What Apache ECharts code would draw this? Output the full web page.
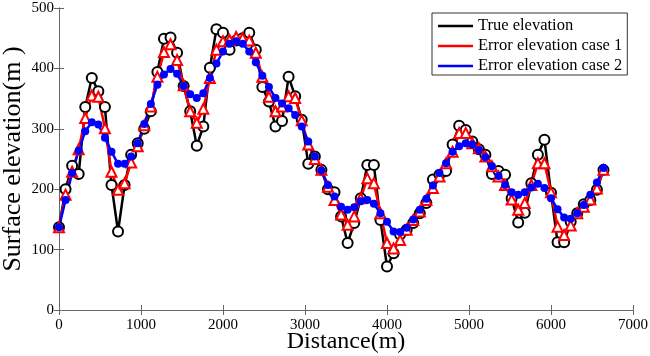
<!DOCTYPE html>
<html>
<head>
<meta charset="utf-8">
<script src="https://cdn.jsdelivr.net/npm/echarts@6/dist/echarts.min.js"></script>
<style>
html,body{margin:0;padding:0;background:#fff;}
#chart{width:650px;height:356px;}
</style>
</head>
<body>
<div id="chart"></div>
<script>
var distance = [0,80,160,240,320,400,480,560,640,720,800,880,960,1040,1120,1200,1280,1360,1440,1520,1600,1680,1760,1840,1920,2000,2080,2160,2240,2320,2400,2480,2560,2640,2720,2800,2880,2960,3040,3120,3200,3280,3360,3440,3520,3600,3680,3760,3840,3920,4000,4080,4160,4240,4320,4400,4480,4560,4640,4720,4800,4880,4960,5040,5120,5200,5280,5360,5440,5520,5600,5680,5760,5840,5920,6000,6080,6160,6240,6320,6400,6480,6560,6640];
var trueElev = [137,200,239,225,336,384,362,336,207,130,207,257,276,300,329,394,449,451,426,371,329,272,304,401,465,459,431,446,450,459,431,369,345,304,313,386,354,315,242,254,232,200,195,155,111,144,185,240,240,149,72,94,125,133,144,160,177,216,224,230,274,305,298,279,266,257,225,230,224,185,145,161,210,257,282,194,112,112,146,160,175,182,199,232];
var errorCase1 = [137,191,229,266,318,355,353,301,229,199,210,244,271,306,337,386,427,440,414,372,329,310,333,384,431,445,447,452,450,446,426,386,353,329,337,354,351,314,274,250,232,204,182,158,141,155,185,218,210,160,111,102,116,133,149,163,182,202,221,243,262,293,293,276,268,254,238,221,207,183,166,177,207,243,243,195,138,124,140,160,171,183,201,232];
var errorCase2 = [137,182,227,264,296,311,307,285,262,242,242,254,276,308,341,373,390,399,391,371,357,351,359,384,408,428,441,445,441,428,410,388,369,351,342,334,323,304,279,254,231,207,188,171,166,170,180,182,176,160,146,130,129,136,150,166,184,206,227,243,262,271,276,274,265,253,238,222,207,195,191,195,203,209,202,185,167,153,151,160,174,191,211,235];
var seriesNames = ['True elevation','Error elevation case 1','Error elevation case 2'];
var xTicks = [0,1000,2000,3000,4000,5000,6000,7000];
var yTicks = [0,100,200,300,400,500];

function pairs(ys){ return distance.map(function(d,i){ return [d, ys[i]]; }); }
function plain(v){ return String(v); }

var font = 'Liberation Serif';
var axisCol = '#666';
var chart = echarts.init(document.getElementById('chart'), null, {renderer:'canvas'});
var xMin = xTicks[0], xMax = xTicks[xTicks.length-1], xStep = xTicks[1]-xTicks[0];
var yMin = yTicks[0], yMax = yTicks[yTicks.length-1], yStep = yTicks[1]-yTicks[0];
chart.setOption({
  animation: false,
  backgroundColor: '#fff',
  grid: {left: 59, right: 17, top: 8, bottom: 46, show: false, containLabel: false, outerBoundsMode: 'none'},
  legend: {
    orient: 'vertical',
    left: 432, top: 13,
    data: seriesNames,
    icon: 'rect',
    itemWidth: 35, itemHeight: 2.5,
    itemGap: 2,
    padding: [4, 5, 0, 6],
    itemStyle: {borderWidth: 0},
    borderColor: '#333', borderWidth: 1, backgroundColor: '#fff',
    textStyle: {fontFamily: font, fontSize: 16.5, color: '#000', lineHeight: 18}
  },
  xAxis: [{
    type: 'value', min: xMin, max: xMax, interval: xStep,
    name: 'Distance(m)', nameLocation: 'middle', nameGap: 20, nameMoveOverlap: false,
    nameTextStyle: {fontFamily: font, fontSize: 24, color: '#000'},
    axisLine: {show: true, lineStyle: {color: axisCol, width: 1}},
    axisTick: {show: true, inside: true, length: 5, lineStyle: {color: axisCol}},
    axisLabel: {fontFamily: font, fontSize: 15, color: '#000', margin: 8, formatter: plain},
    splitLine: {show: false}
  },{
    type: 'value', min: xMin, max: xMax, interval: xStep, position: 'top',
    axisLine: {show: true, lineStyle: {color: axisCol, width: 1}},
    axisTick: {show: true, inside: true, length: 5, lineStyle: {color: axisCol}},
    axisLabel: {show: false}, splitLine: {show: false}
  }],
  yAxis: [{
    type: 'value', min: yMin, max: yMax, interval: yStep,
    name: 'Surface elevation(m )', nameLocation: 'middle', nameGap: 33, nameMoveOverlap: false,
    nameTextStyle: {fontFamily: font, fontSize: 26, color: '#000'},
    axisLine: {show: true, lineStyle: {color: axisCol, width: 1}},
    axisTick: {show: true, inside: true, length: 5, lineStyle: {color: axisCol}},
    axisLabel: {fontFamily: font, fontSize: 15, color: '#000', margin: 5, formatter: plain},
    splitLine: {show: false}
  },{
    type: 'value', min: yMin, max: yMax, interval: yStep, position: 'right',
    axisLine: {show: true, lineStyle: {color: axisCol, width: 1}},
    axisTick: {show: true, inside: true, length: 5, lineStyle: {color: axisCol}},
    axisLabel: {show: false}, splitLine: {show: false}
  }],
  series: [{
    name: seriesNames[0], type: 'line', data: pairs(trueElev),
    color: '#000',
    lineStyle: {color: '#000', width: 2.5},
    symbol: 'emptyCircle', symbolSize: 10,
    itemStyle: {color: '#000', borderColor: '#000', borderWidth: 2}
  },{
    name: seriesNames[1], type: 'line', data: pairs(errorCase1),
    color: '#ff0000',
    lineStyle: {color: '#ff0000', width: 2.5},
    symbol: 'emptyTriangle', symbolSize: 10,
    itemStyle: {color: '#ff0000', borderColor: '#ff0000', borderWidth: 2.5}
  },{
    name: seriesNames[2], type: 'line', data: pairs(errorCase2),
    color: '#0000ff',
    lineStyle: {color: '#0000ff', width: 2.5},
    symbol: 'circle', symbolSize: 8,
    itemStyle: {color: '#0000ff'}
  }]
});
</script>
</body>
</html>
